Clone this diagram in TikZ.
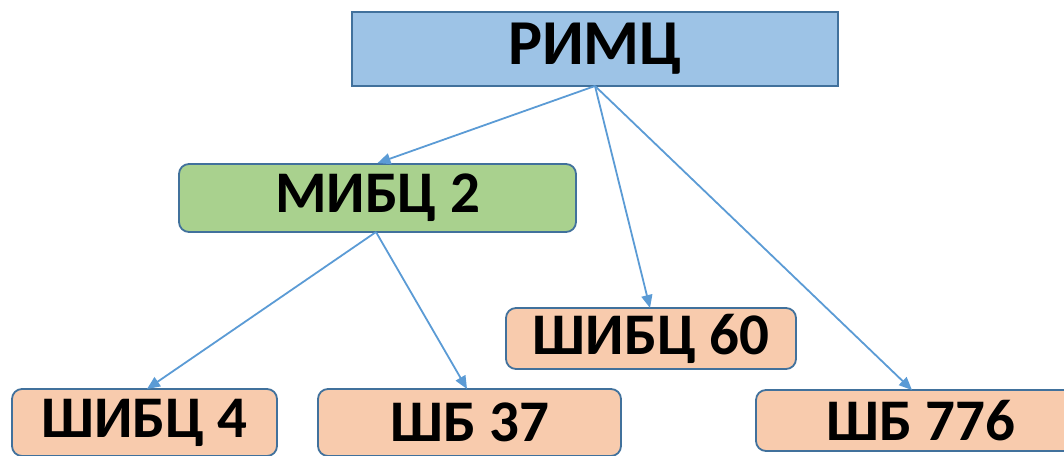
\documentclass[tikz,border=0pt]{standalone}
\usepackage{fontspec}
\setmainfont{Carlito}
\usetikzlibrary{arrows.meta}
\definecolor{bluefill}{HTML}{9DC3E6}
\definecolor{greenfill}{HTML}{A9D18E}
\definecolor{peachfill}{HTML}{F8CBAD}
\definecolor{boxline}{HTML}{41719C}
\definecolor{arrowline}{HTML}{5B9BD5}
\tikzset{
  box/.style={draw=boxline, line width=1.8pt, minimum height=#1, inner sep=0pt,
    font=\fontsize{59}{62}\selectfont\bfseries, text=black},
  box/.default=68pt,
  roundbox/.style={box=#1, rounded corners=10pt},
  roundbox/.default=68pt,
  conn/.style={draw=arrowline, line width=1.8pt, -{Triangle[length=13pt,width=11pt]}},
}
\begin{document}
\begin{tikzpicture}[x=1pt,y=-1pt]
\useasboundingbox (0,0) rectangle (1064,455);
\begin{scope}
\clip (0,0) rectangle (1064,455);
\node[box=74pt, fill=bluefill, minimum width=486pt, font=\fontsize{64}{66}\selectfont\bfseries] (rimc) at (595,49) {РИМЦ};
\node[roundbox=68pt, fill=greenfill, minimum width=397pt] (mibc) at (377.5,198) {МИБЦ 2};
\node[roundbox=61pt, fill=peachfill, minimum width=290pt] (sh60) at (651,338.5) {ШИБЦ 60};
\node[roundbox=67pt, fill=peachfill, minimum width=265pt] (sh4) at (144.5,422.5) {ШИБЦ 4};
\node[roundbox=67pt, fill=peachfill, minimum width=303pt] (sb37) at (469.5,422.5) {ШБ 37};
\node[roundbox=61pt, fill=peachfill, minimum width=330pt] (sb776) at (921,420.5) {ШБ 776};
\end{scope}
\coordinate (rb) at (595,86);
\coordinate (mb) at (376,232);
\draw[conn] (rb) -- (mibc.north);
\draw[conn] (rb) -- (650,308) coordinate (e60);
\draw[conn] (rb) -- (912,390);
\draw[conn] (mb) -- (147,389);
\draw[conn] (mb) -- (467,389);
\end{tikzpicture}
\end{document}
